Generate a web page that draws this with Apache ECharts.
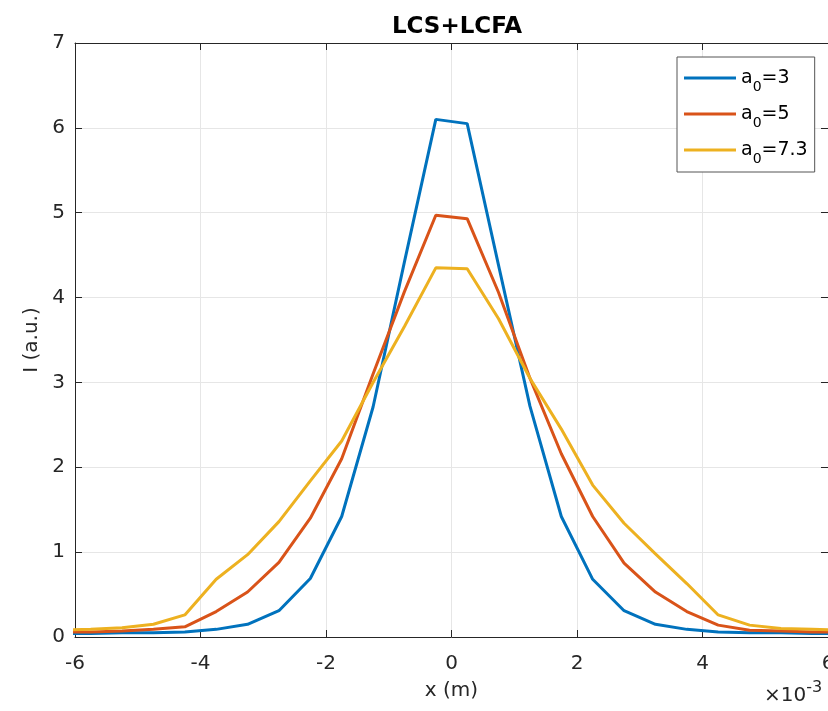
<!DOCTYPE html>
<html>
<head>
<meta charset="utf-8">
<script src="https://cdn.jsdelivr.net/npm/echarts@6/dist/echarts.min.js"></script>
<style>
html,body{margin:0;padding:0;background:#fff;}
#chart{width:828px;height:711px;}
</style>
</head>
<body>
<div id="chart"></div>
<script>
// x in units of 1e-3 m
const xValues = [-6.25,-5.75,-5.25,-4.75,-4.25,-3.75,-3.25,-2.75,-2.25,-1.75,-1.25,-0.75,-0.25,0.25,0.75,1.25,1.75,2.25,2.75,3.25,3.75,4.25,4.75,5.25,5.75,6.25];
const seriesA3 = [0.04,0.04,0.05,0.05,0.06,0.09,0.15,0.31,0.69,1.42,2.71,4.42,6.10,6.05,4.38,2.72,1.42,0.68,0.31,0.15,0.09,0.06,0.05,0.05,0.04,0.04];
const seriesA5 = [0.06,0.06,0.07,0.09,0.12,0.30,0.53,0.88,1.40,2.10,3.10,4.07,4.97,4.93,4.06,3.05,2.16,1.42,0.87,0.53,0.30,0.14,0.08,0.07,0.06,0.06];
const seriesA73 = [0.08,0.09,0.11,0.15,0.26,0.68,0.97,1.36,1.84,2.31,3.00,3.66,4.35,4.34,3.75,3.05,2.45,1.79,1.34,0.98,0.63,0.26,0.14,0.10,0.09,0.08];
const seriesNames = ['a0=3','a0=5','a0=7.3'];
const legendLabels = {'a0=3':'=3','a0=5':'=5','a0=7.3':'=7.3'};
const colors = ['#0072BD','#D95319','#EDB120'];

const FONT = '"DejaVu Sans", Verdana, sans-serif';
const axisColor = '#262626';
const gridColor = '#e6e6e6';

function pairs(ys){ return xValues.map((x,i)=>[x, ys[i]]); }

const chart = echarts.init(document.getElementById('chart'), null, {renderer:'canvas'});
const option = {
  backgroundColor: '#fff',
  animation: false,
  textStyle: {fontFamily: FONT},
  title: {
    text: 'LCS+LCFA',
    left: 452, top: 11, textAlign: 'center',
    textStyle: {fontFamily: FONT, fontSize: 23, fontWeight: 'bold', color: '#000'}
  },
  grid: {left: 75, right: 0, top: 43, bottom: 74, containLabel: false, outerBoundsMode: 'none'},
  legend: {
    orient: 'vertical',
    left: 677, top: 57,
    padding: [5, 7, 6, 7],
    borderColor: '#555', borderWidth: 1,
    backgroundColor: '#fff',
    icon: 'rect',
    itemWidth: 52, itemHeight: 3, itemGap: 4,
    data: seriesNames,
    formatter: function(name){ return '{b|a}{s|0}{b|' + legendLabels[name] + '}'; },
    textStyle: {
      fontFamily: FONT, color: '#000', fontSize: 19,
      rich: {
        b: {fontFamily: FONT, fontSize: 19, color: '#000', lineHeight: 22},
        s: {fontFamily: FONT, fontSize: 14, color: '#000', lineHeight: 16, padding: [18,0,0,0]}
      }
    }
  },
  xAxis: [{
    type: 'value', min: -6, max: 6, interval: 2,
    position: 'bottom',
    name: 'x (m)', nameLocation: 'middle', nameGap: 44,
    nameTextStyle: {fontFamily: FONT, fontSize: 20, color: axisColor},
    axisLine: {show: true, onZero: false, lineStyle: {color: axisColor, width: 1}},
    axisTick: {show: true, inside: true, length: 7, lineStyle: {color: axisColor}},
    axisLabel: {fontFamily: FONT, fontSize: 20, color: axisColor, margin: 17},
    splitLine: {show: true, lineStyle: {color: gridColor, width: 1}}
  },{
    type: 'value', min: -6, max: 6, interval: 2,
    position: 'top',
    axisLine: {show: true, onZero: false, lineStyle: {color: axisColor, width: 1}},
    axisTick: {show: true, inside: true, length: 7, lineStyle: {color: axisColor}},
    axisLabel: {show: false},
    splitLine: {show: false}
  }],
  yAxis: [{
    type: 'value', min: 0, max: 7, interval: 1,
    position: 'left',
    name: 'I (a.u.)', nameLocation: 'middle', nameGap: 33,
    nameTextStyle: {fontFamily: FONT, fontSize: 20, color: axisColor},
    axisLine: {show: true, onZero: false, lineStyle: {color: axisColor, width: 1}},
    axisTick: {show: true, inside: true, length: 7, lineStyle: {color: axisColor}},
    axisLabel: {fontFamily: FONT, fontSize: 20, color: axisColor, margin: 10},
    splitLine: {show: true, lineStyle: {color: gridColor, width: 1}}
  },{
    type: 'value', min: 0, max: 7, interval: 1,
    position: 'right',
    axisLine: {show: true, onZero: false, lineStyle: {color: axisColor, width: 1}},
    axisTick: {show: true, inside: true, length: 7, lineStyle: {color: axisColor}},
    axisLabel: {show: false},
    splitLine: {show: false}
  }],
  graphic: [{
    type: 'text',
    left: 764, top: 680,
    style: {
      text: '{m|×10}{p|-3}',
      rich: {
        m: {fontFamily: FONT, fontSize: 20, fill: axisColor, padding: [8,0,0,0]},
        p: {fontFamily: FONT, fontSize: 16, fill: axisColor, padding: [0,0,8,0]}
      }
    }
  }],
  series: [seriesA3, seriesA5, seriesA73].map((ys, i) => ({
    name: seriesNames[i],
    type: 'line',
    xAxisIndex: 0, yAxisIndex: 0,
    data: pairs(ys),
    showSymbol: false,
    symbol: 'none',
    clip: true,
    color: colors[i],
    itemStyle: {color: colors[i]},
    lineStyle: {color: colors[i], width: 3},
    z: 3 + i
  }))
};
chart.setOption(option);
</script>
</body>
</html>
